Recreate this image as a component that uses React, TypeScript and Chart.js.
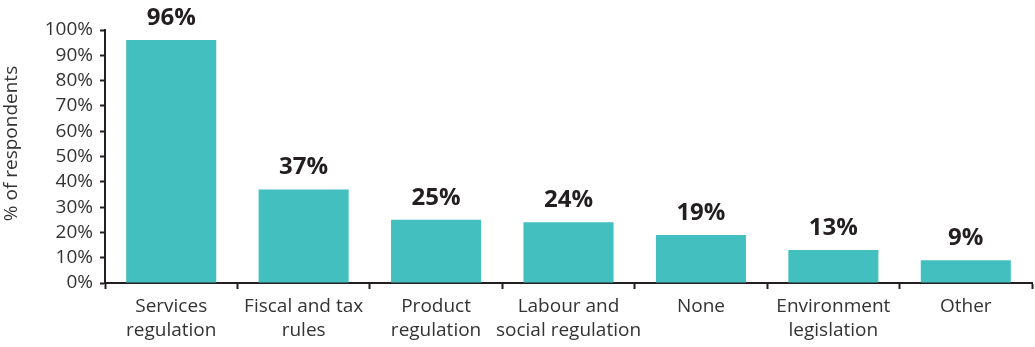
import React, { useEffect, useRef } from "react";
import { Chart, registerables } from "chart.js";

Chart.register(...registerables);

const categories: string[][] = [
  ["Services", "regulation"],
  ["Fiscal and tax", "rules"],
  ["Product", "regulation"],
  ["Labour and", "social regulation"],
  ["None"],
  ["Environment", "legislation"],
  ["Other"],
];
const values: number[] = [96, 37, 25, 24, 19, 13, 9];
const yTickValues: number[] = [0, 10, 20, 30, 40, 50, 60, 70, 80, 90, 100];
const yTitle = "% of respondents";

const FONT = "'Open Sans', sans-serif";
const TEXT = "#231f20";
const LABEL = "#333333";
const BAR = "#43bfbf";

const labelPlugin = {
  id: "valueLabels",
  afterDatasetsDraw(chart: any) {
    const ctx = chart.ctx;
    const meta = chart.getDatasetMeta(0);
    ctx.save();
    ctx.font = `bold 24px ${FONT}`;
    ctx.fillStyle = TEXT;
    ctx.textAlign = "center";
    ctx.textBaseline = "alphabetic";
    meta.data.forEach((bar: any, i: number) => {
      ctx.fillText(`${values[i]}%`, bar.x, bar.y - 15);
    });
    ctx.restore();
    // y-axis title, placed slightly above the plot centre as in the reference
    const area = chart.chartArea;
    ctx.save();
    ctx.font = `19px ${FONT}`;
    ctx.fillStyle = LABEL;
    ctx.textAlign = "center";
    ctx.textBaseline = "middle";
    ctx.translate(12, (area.top + area.bottom) / 2 - 13);
    ctx.rotate(-Math.PI / 2);
    ctx.fillText(yTitle, 0, 0);
    ctx.restore();
  },
};

export default function App() {
  const ref = useRef<HTMLCanvasElement | null>(null);
  useEffect(() => {
    if (!ref.current) return;
    const chart = new Chart(ref.current, {
      type: "bar",
      data: {
        labels: categories,
        datasets: [
          {
            data: values,
            backgroundColor: BAR,
            borderWidth: 0,
            categoryPercentage: 1,
            barPercentage: 0.68,
          },
        ],
      },
      options: {
        animation: false,
        responsive: true,
        maintainAspectRatio: false,
        layout: { padding: { top: 30, right: 3, bottom: 0, left: 0 } },
        plugins: { legend: { display: false }, tooltip: { enabled: false } },
        scales: {
          x: {
            offset: true,
            grid: {
              offset: true,
              drawOnChartArea: false,
              drawTicks: true,
              tickLength: 6,
              tickWidth: 2,
              color: TEXT,
            },
            border: { display: true, color: TEXT, width: 2 },
            ticks: {
              color: LABEL,
              font: { family: FONT, size: 19, lineHeight: 1.3 },
              padding: 5,
              maxRotation: 0,
              autoSkip: false,
            },
            afterFit: (scale: any) => {
              scale.height = 64;
            },
          },
          y: {
            min: 0,
            max: 100,
            afterBuildTicks: (scale: any) => {
              scale.ticks = yTickValues.map((v) => ({ value: v }));
            },
            grid: {
              drawOnChartArea: false,
              drawTicks: true,
              tickLength: 5,
              tickWidth: 2,
              color: TEXT,
            },
            border: { display: true, color: TEXT, width: 2 },
            ticks: {
              color: LABEL,
              font: { family: FONT, size: 19 },
              padding: 7,
              autoSkip: false,
              callback: (v: any) => `${v}%`,
            },
            title: { display: false },
            afterFit: (scale: any) => {
              scale.width = 105;
            },
          },
        },
      },
      plugins: [labelPlugin],
    });
    return () => chart.destroy();
  }, []);
  return (
    <div style={{ position: "fixed", left: 0, top: 0, width: 1035, height: 347 }}>
      <canvas ref={ref} />
    </div>
  );
}
